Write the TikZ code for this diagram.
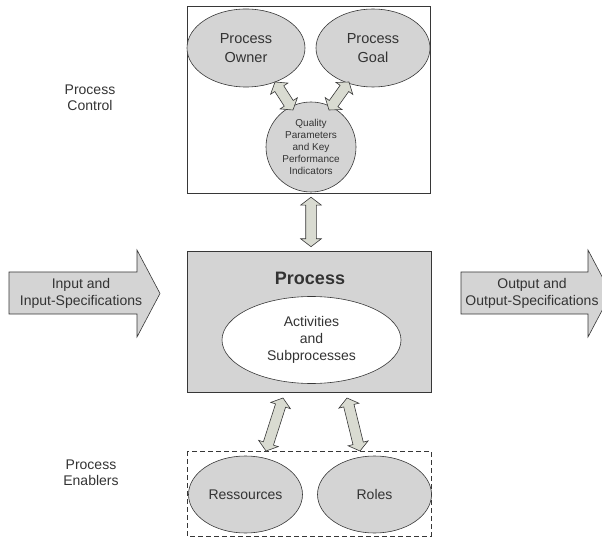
\documentclass[tikz,border=0pt]{standalone}
\usepackage{fontspec}
\setmainfont{Liberation Sans}
\usetikzlibrary{shapes.geometric,shapes.arrows,calc}

\definecolor{ink}{RGB}{51,51,51}
\definecolor{edge}{RGB}{55,55,55}
\definecolor{boxgray}{RGB}{212,212,212}
\definecolor{linkfill}{RGB}{217,219,209}

% double-headed connector between two points, shortened by #3 in total
\newcommand{\dlink}[4]{%
  \path let \p1=(#1), \p2=(#2),
            \n1={atan2(\y2-\y1,\x2-\x1)},
            \n2={veclen(\x2-\x1,\y2-\y1)} in
    node[linkarrow, rotate=\n1, minimum height=\n2-#3] (#4) at ($(#1)!0.5!(#2)$) {};%
}

\begin{document}
\begin{tikzpicture}[x=1pt,y=-1pt,
  every node/.style={text=ink},
  frame/.style={draw=edge, line width=0.6pt},
  oval/.style={ellipse, draw=edge, fill=boxgray, line width=0.6pt, inner sep=0pt, align=center},
  linkarrow/.style={double arrow, draw=edge, fill=linkfill, line width=0.6pt,
    inner xsep=0pt, inner ysep=5pt, double arrow head extend=5pt,
    double arrow tip angle=105},
  bigarrow/.style={draw=edge, fill=boxgray, line width=0.6pt},
  lbl/.style={align=center, font=\fontsize{14}{16}\selectfont},
]
\useasboundingbox (0,0) rectangle (602,537);
\clip (0,0) rectangle (602,537);

% side captions
\node[lbl] (ctrllbl) at (90,98) {Process\\Control};
\node[lbl] (enablbl) at (91,473) {Process\\Enablers};

% process control frame
\draw[frame, fill=white] (187,6) rectangle (430,193);
\node[inner sep=0pt, minimum width=243pt, minimum height=187pt] (topbox) at (308.5,99.5) {};
\node[oval, minimum width=118pt, minimum height=78pt, font=\fontsize{14.5}{19}\selectfont]
  (owner) at (246,48) {Process\\Owner};
\node[oval, minimum width=114pt, minimum height=78pt, font=\fontsize{14.5}{19}\selectfont]
  (goal) at (373,48) {Process\\Goal};
\node[circle, draw=edge, fill=boxgray, line width=0.6pt, inner sep=0pt, minimum size=90pt,
  align=center, font=\fontsize{10}{12.2}\selectfont]
  (kpi) at (311,147) {Quality\\Parameters\\and Key\\Performance\\Indicators};

% main process
\node[draw=edge, fill=boxgray, line width=0.6pt, minimum width=244pt, minimum height=141pt,
  inner sep=0pt] (process) at (309,321.5) {};
\node[font=\fontsize{18}{20}\selectfont\bfseries] (proctitle) at (310,278) {Process};
\node[ellipse, draw=edge, fill=white, line width=0.6pt, minimum width=179pt, minimum height=87pt,
  inner sep=0pt, align=center, font=\fontsize{14}{17}\selectfont]
  (activities) at (311.5,340) {Activities\\and\\Subprocesses};

% process enablers
\draw[frame, dashed, dash pattern=on 5pt off 3pt, line width=1pt] (187,451) rectangle (431,536);
\node[inner sep=0pt, minimum width=244pt, minimum height=85pt] (enabbox) at (309,493.5) {};
\node[oval, minimum width=114pt, minimum height=77pt, font=\fontsize{14}{17}\selectfont]
  (res) at (245.5,494.5) {Ressources};
\node[oval, minimum width=114pt, minimum height=77pt, font=\fontsize{14}{17}\selectfont]
  (roles) at (374.5,494.5) {Roles};

% input and output arrows
\draw[bigarrow] (9,272) -- (137,272) -- (137,250) -- (160,293.5) -- (137,337) -- (137,314) -- (9,314) -- cycle;
\node[lbl, font=\fontsize{14}{17}\selectfont] (input) at (81,293) {Input and\\Input-Specifications};
\draw[bigarrow] (461,272) -- (588,272) -- (588,250) -- (611,293.5) -- (588,337) -- (588,314) -- (461,314) -- cycle;
\node[lbl, font=\fontsize{14}{17}\selectfont] (output) at (532,293) {Output and\\Output-Specifications};

% connector end points
\coordinate (ownerEnd) at (275,82);
\coordinate (kpiLeft) at (293,110);
\coordinate (goalEnd) at (349,82);
\coordinate (kpiRight) at (329,110);
\coordinate (ctrlEnd) at (kpi |- topbox.south);
\coordinate (procTop) at (kpi |- process.north);
\coordinate (procResEnd) at (283,398);
\coordinate (resEnd) at (266,451);
\coordinate (procRolEnd) at (347,398);
\coordinate (rolEnd) at (360,451);

% double-headed connectors
\dlink{ownerEnd}{kpiLeft}{0}{ownerlink}
\dlink{goalEnd}{kpiRight}{0}{goallink}
\dlink{ctrlEnd}{procTop}{8}{ctrllink}
\dlink{procResEnd}{resEnd}{0}{reslink}
\dlink{procRolEnd}{rolEnd}{0}{rollink}
\end{tikzpicture}
\end{document}
